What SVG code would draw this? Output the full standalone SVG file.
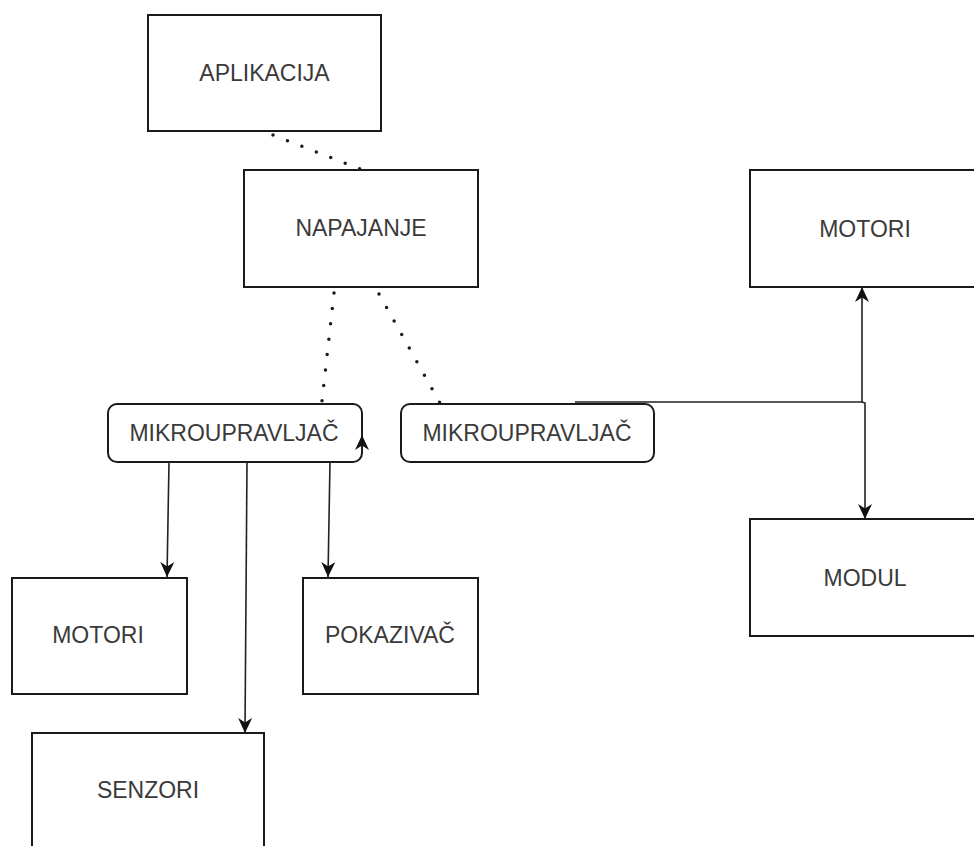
<svg xmlns="http://www.w3.org/2000/svg" width="974" height="846" viewBox="0 0 974 846">
<style>
.box{fill:#fff;stroke:#1a1a1a;stroke-width:2}
.lbl{font-family:"Liberation Sans",Arial,sans-serif;font-size:23px;fill:#3a3a3a;text-anchor:middle}
.edge{fill:none;stroke:#222;stroke-width:1.6}
.dot{fill:none;stroke:#1a1a1a;stroke-width:3.5;stroke-linecap:round;stroke-dasharray:0 15.5}
</style>
<defs>
<marker id="arr" viewBox="0 0 15 14" refX="15" refY="7" markerWidth="15" markerHeight="14" markerUnits="userSpaceOnUse" orient="auto">
<path d="M0,0 L15,7 L0,14 L4.5,7 z" fill="#111"/>
</marker>
</defs>
<rect width="974" height="846" fill="#fff"/>
<g id="aplikacija"><rect class="box" x="148" y="15" width="233" height="116"/><text class="lbl" x="264.5" y="81">APLIKACIJA</text></g>
<g id="napajanje"><rect class="box" x="244" y="170" width="234" height="117"/><text class="lbl" x="361" y="236">NAPAJANJE</text></g>
<g id="mikro1"><rect class="box" x="108" y="404" width="254" height="58" rx="9"/><text class="lbl" x="234" y="441">MIKROUPRAVLJAČ</text></g>
<g id="mikro2"><rect class="box" x="401" y="404" width="253" height="58" rx="9"/><text class="lbl" x="527" y="441">MIKROUPRAVLJAČ</text></g>
<g id="motori-r"><rect class="box" x="750" y="170" width="240" height="117"/><text class="lbl" x="865" y="237">MOTORI</text></g>
<g id="modul"><rect class="box" x="750" y="519" width="240" height="117"/><text class="lbl" x="865" y="586">MODUL</text></g>
<g id="motori-l"><rect class="box" x="12" y="578" width="175" height="116"/><text class="lbl" x="98" y="643">MOTORI</text></g>
<g id="pokazivac"><rect class="box" x="303" y="578" width="175" height="116"/><text class="lbl" x="390" y="643">POKAZIVAČ</text></g>
<g id="senzori"><rect class="box" x="32" y="733" width="232" height="130"/><text class="lbl" x="148" y="798">SENZORI</text></g>
<g id="connectors">
<path class="dot" d="M273,135 L360,169"/>
<path class="dot" d="M334,293 L322,401"/>
<path class="dot" d="M379,294 L440,403"/>
<path class="edge" d="M169,462 L167,577" marker-end="url(#arr)"/>
<path class="edge" d="M247,462 L245,733" marker-end="url(#arr)"/>
<path class="edge" d="M330,462 L328,577" marker-end="url(#arr)"/>
<path class="edge" d="M362,452 L362,435" marker-end="url(#arr)"/>
<path class="edge" d="M575,402 L862,402 L862,287" marker-end="url(#arr)"/>
<path class="edge" d="M862,402 L865,403 L865,519" marker-end="url(#arr)"/>
</g>
</svg>
